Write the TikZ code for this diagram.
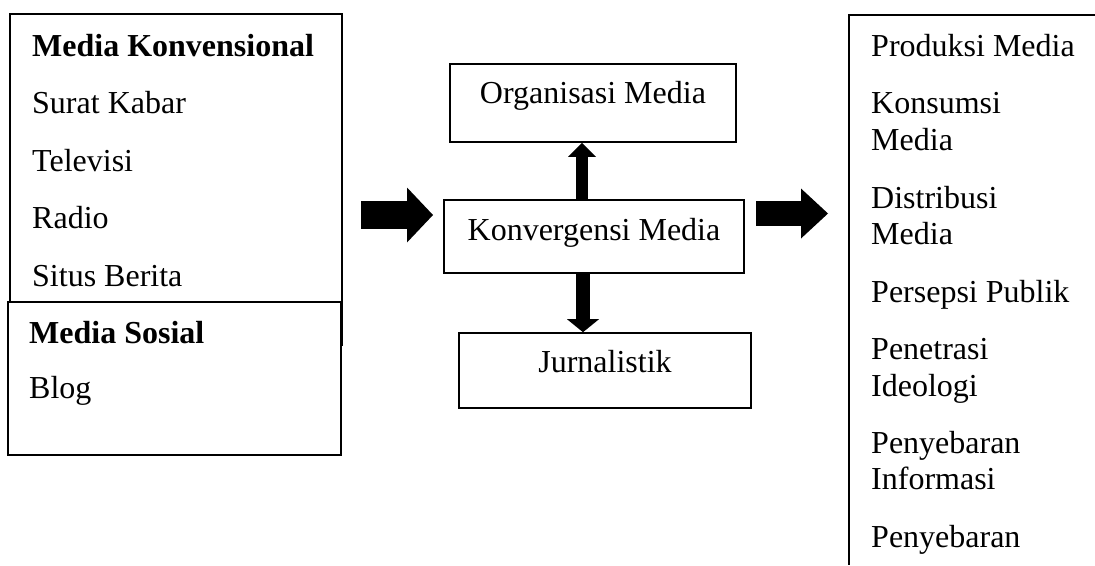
\documentclass[tikz,border=0pt]{standalone}
\usepackage{fontspec}
\setmainfont{Liberation Serif}
\usetikzlibrary{arrows.meta}
\begin{document}
\begin{tikzpicture}[x=1pt,y=-1pt,
  box/.style={draw, line width=1.6pt, inner sep=0pt, fill=white},
  txt/.style={anchor=base west, inner sep=0pt, font=\fontsize{32}{38}\selectfont},
  ctxt/.style={anchor=base, inner sep=0pt, font=\fontsize{32}{38}\selectfont},
]
\useasboundingbox (0,0) rectangle (1095,565);
\fill[white] (0,0) rectangle (1095,565);

% left boxes
\node[box, minimum width=332pt, minimum height=331pt] (lu) at (176,179.5) {};
\node[box, minimum width=333pt, minimum height=153pt] (ll) at (174.5,378.5) {};
\node[txt] (t1) at (32,56) {\bfseries Media Konvensional};
\node[txt] (t2) at (32,113.5) {Surat Kabar};
\node[txt] (t3) at (32,171) {Televisi};
\node[txt] (t4) at (32,228.5) {Radio};
\node[txt] (t5) at (32,286) {Situs Berita};
\node[txt] (t6) at (29,343) {\bfseries Media Sosial};
\node[txt] (t7) at (29,398) {Blog};

% middle boxes
\node[box, minimum width=286pt, minimum height=78pt] (org) at (593,103) {};
\node[box, minimum width=300pt, minimum height=73pt] (konv) at (594,236.5) {};
\node[box, minimum width=292pt, minimum height=75pt] (jur) at (605,370.5) {};
\node[ctxt] (orgt) at (593,103) {Organisasi Media};
\node[ctxt] (konvt) at (594,240) {Konvergensi Media};
\node[ctxt] (jurt) at (605,372) {Jurnalistik};

% vertical arrows
\coordinate (ua) at ([xshift=-12pt]konv.north);
\coordinate (da) at ([xshift=-11pt]konv.south);
\draw[line width=12pt, -{Triangle[width=28pt,length=14pt,line width=0pt]}] (ua) -- (ua |- org.south);
\draw[line width=14pt, -{Triangle[width=32pt,length=13pt,line width=0pt]}] (da) -- (da |- jur.north);

% horizontal arrows
\coordinate (la1) at (361,215);
\coordinate (la2) at (433,215);
\coordinate (ra1) at (756,213.5);
\coordinate (ra2) at (828,213.5);
\draw[line width=28pt, -{Triangle[width=55pt,length=26pt,line width=0pt]}] (la1) -- (la2);
\draw[line width=25pt, -{Triangle[width=50pt,length=27pt,line width=0pt]}] (ra1) -- (ra2);

% right box (open to the right and bottom)
\coordinate (rb) at (849,15);
\coordinate (rbr) at (1095,15);
\coordinate (rbb) at (849,565);
\draw[line width=1.6pt] (rbr) -- (rb) -- (rbb);
\node[txt] (r1) at (871,56) {Produksi Media};
\node[txt] (r2) at (871,113.5) {Konsumsi};
\node[txt] (r3) at (871,150) {Media};
\node[txt] (r4) at (871,208) {Distribusi};
\node[txt] (r5) at (871,244.5) {Media};
\node[txt] (r6) at (871,302) {Persepsi Publik};
\node[txt] (r7) at (871,359.5) {Penetrasi};
\node[txt] (r8) at (871,396) {Ideologi};
\node[txt] (r9) at (871,453) {Penyebaran};
\node[txt] (r10) at (871,489.5) {Informasi};
\node[txt] (r11) at (871,547) {Penyebaran};
\end{tikzpicture}
\end{document}
